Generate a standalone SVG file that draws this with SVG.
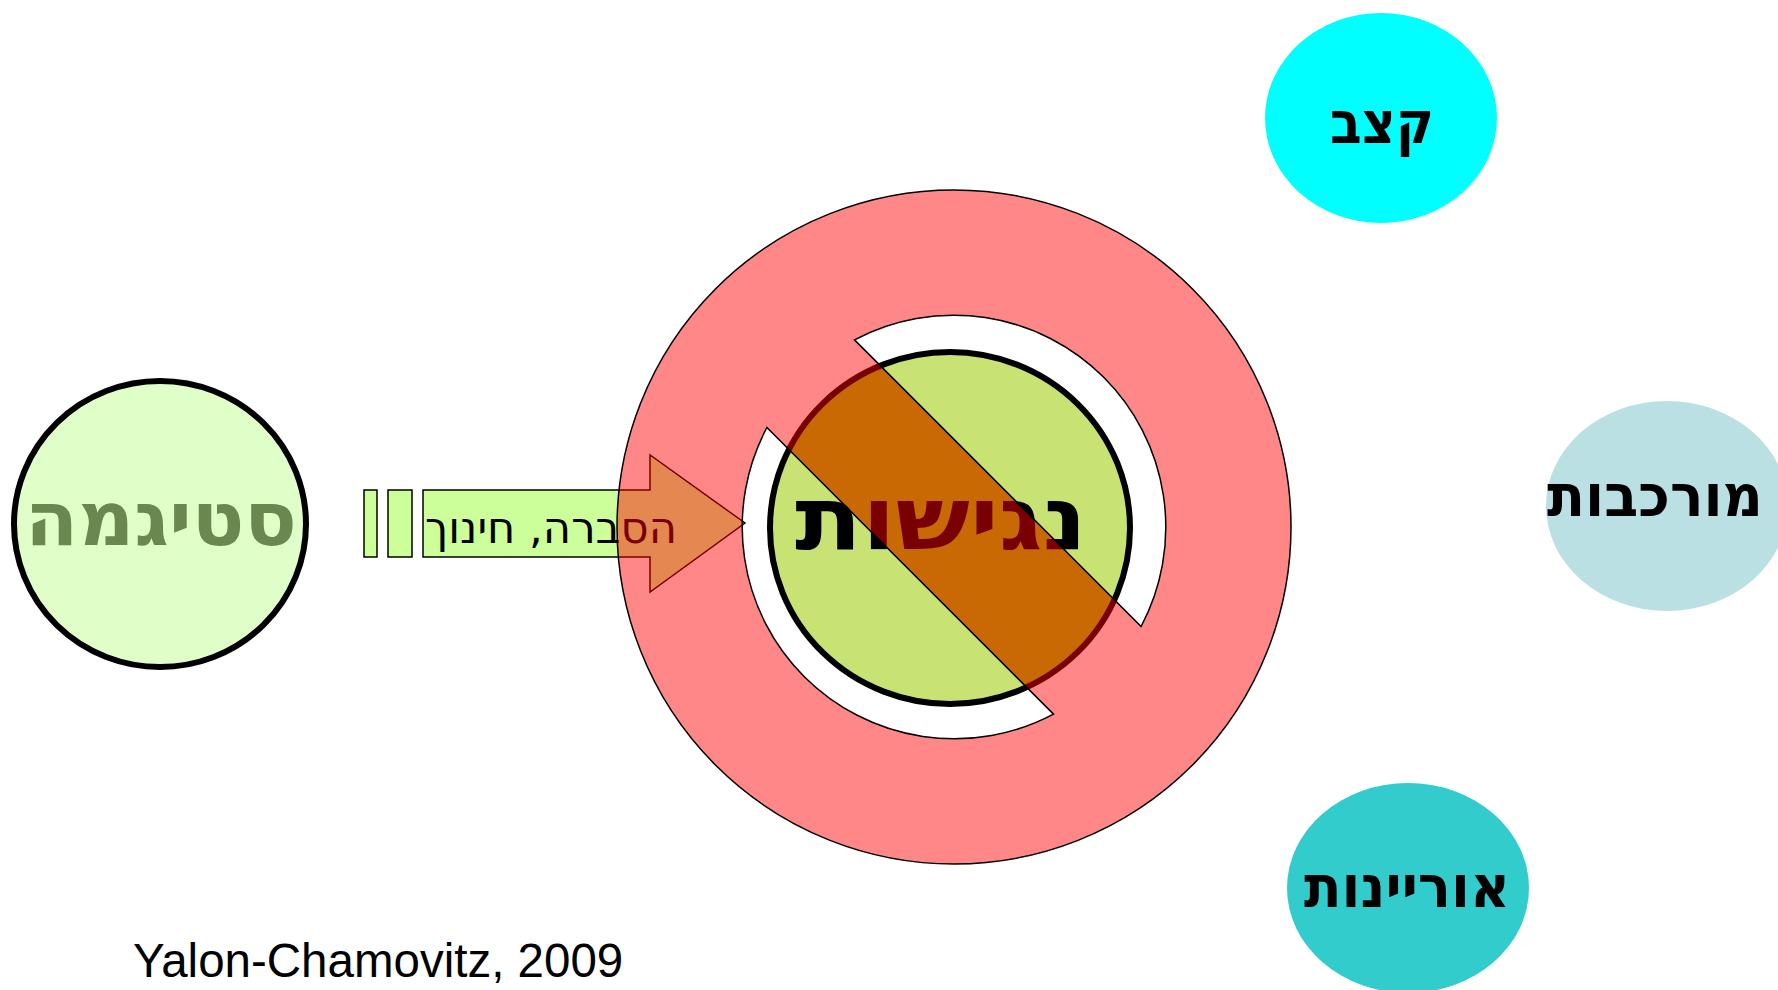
<svg xmlns="http://www.w3.org/2000/svg" width="1778" height="990" viewBox="0 0 1778 990">
<style>
.heb{font-family:"DejaVu Sans","Liberation Sans",sans-serif;font-weight:bold;text-anchor:middle;direction:rtl}
.bar{fill:#ccff99;stroke:#000;stroke-width:1.5}
</style>
<defs>
<clipPath id="gclip"><ellipse cx="950" cy="528" rx="180" ry="176"/></clipPath>
</defs>
<rect width="1778" height="990" fill="#fff"/>

<g id="stigma">
<ellipse cx="160" cy="524" rx="146" ry="143" fill="#e0ffc8" stroke="#000" stroke-width="6"/>
<text class="heb" x="161" y="545" font-size="75" fill="#6b8750" textLength="272" lengthAdjust="spacingAndGlyphs">סטיגמה</text>
</g>

<g id="connectors">
<rect class="bar" x="364" y="490" width="13" height="67"/>
<rect class="bar" x="388" y="490" width="24" height="67"/>
<polygon class="bar" points="423,490 650,490 650,455 745,523 650,592 650,557 423,557"/>
<text x="551" y="543" font-family="'DejaVu Sans Condensed','DejaVu Sans',sans-serif" font-size="43" text-anchor="middle" direction="rtl" fill="#000" textLength="252" lengthAdjust="spacingAndGlyphs">הסברה, חינוך</text>
</g>

<g id="accessibility">
<ellipse cx="950" cy="528" rx="180" ry="176" fill="#c8e274"/>
<polygon points="700,185.3 1250,735.3 1250,910.7 700,360.7" fill="#97c609" clip-path="url(#gclip)"/>
<ellipse cx="950" cy="528" rx="180" ry="176" fill="none" stroke="#000" stroke-width="6"/>
<text class="heb" x="941" y="549" font-size="88" fill="#000" textLength="292" lengthAdjust="spacingAndGlyphs">נגישות</text>
</g>

<g id="no-sign">
<path d="M617,527 A337,337 0 1,0 1291,527 A337,337 0 1,0 617,527 Z M854.5,339.9 A212,212 0 0,1 1141.1,626.5 Z M1053.5,714.1 A212,212 0 0,1 766.9,427.5 Z" fill="#ff0000" fill-opacity="0.47" fill-rule="evenodd" stroke="#000" stroke-width="1.5"/>
</g>

<g id="pace">
<ellipse cx="1381" cy="118" rx="116" ry="105" fill="#00ffff"/>
<text class="heb" x="1382" y="143" font-size="58" fill="#000" textLength="104" lengthAdjust="spacingAndGlyphs">קצב</text>
</g>

<g id="complexity">
<ellipse cx="1667" cy="506" rx="121" ry="105" fill="#bae0e4"/>
<text class="heb" x="1655" y="516" font-size="58" fill="#000" textLength="216" lengthAdjust="spacingAndGlyphs">מורכבות</text>
</g>

<g id="literacy">
<ellipse cx="1408" cy="888" rx="121" ry="105" fill="#33cccc"/>
<text class="heb" x="1407" y="907" font-size="58" fill="#000" textLength="206" lengthAdjust="spacingAndGlyphs">אוריינות</text>
</g>

<g id="citation">
<text x="133" y="977" font-family="'Liberation Sans',Arial,sans-serif" font-size="47.5" fill="#000">Yalon-Chamovitz, 2009</text>
</g>
</svg>
